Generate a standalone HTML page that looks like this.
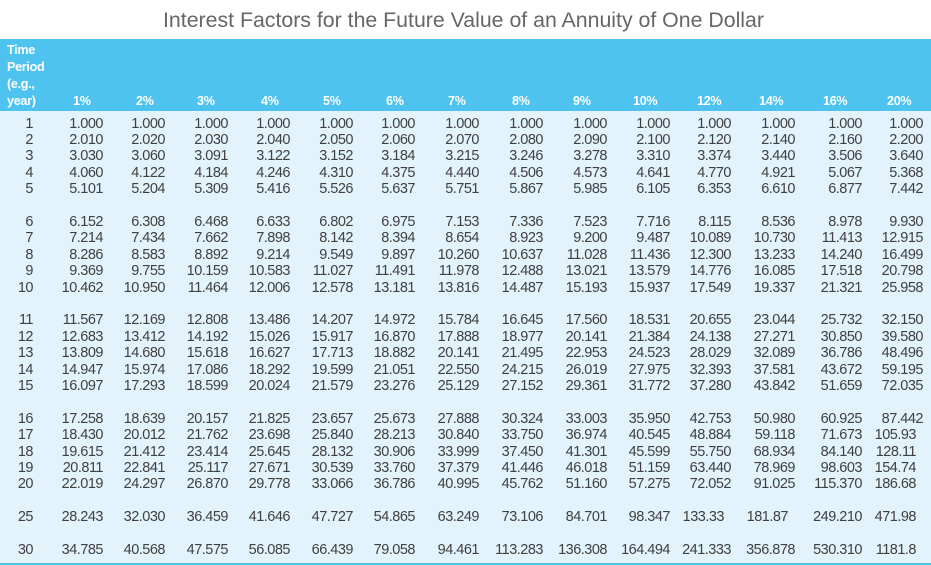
<!DOCTYPE html>
<html>
<head>
<meta charset="utf-8">
<style>
html,body{margin:0;padding:0;}
body{width:931px;height:565px;position:relative;overflow:hidden;background:#ffffff;font-family:"Liberation Sans",Arial,sans-serif;}
.title{position:absolute;left:-2px;top:8px;width:931px;text-align:center;font-size:21.3px;line-height:24px;color:#666666;}
.hdr{position:absolute;left:0;top:39px;width:931px;height:72px;background:#4fc3ef;}
.body{position:absolute;left:0;top:111px;width:931px;height:452px;background:#e2f3fc;}
.bot{position:absolute;left:0;top:563px;width:931px;height:2px;background:#4fc3ef;}
.tp{position:absolute;left:7px;top:42px;font-weight:bold;font-size:12.6px;letter-spacing:-0.3px;line-height:17px;color:#ffffff;}
.pc{position:absolute;top:93px;font-weight:bold;font-size:12.6px;letter-spacing:-0.3px;line-height:17px;color:#ffffff;}
.r{position:absolute;left:0;width:931px;height:16px;line-height:16px;font-size:14.5px;letter-spacing:-0.5px;color:#404040;}
.r span{position:absolute;top:0;width:60px;text-align:right;}
.r span:nth-child(1){left:-27px;}
.r span:nth-child(2){left:43px;}
.r span:nth-child(3){left:105px;}
.r span:nth-child(4){left:168px;}
.r span:nth-child(5){left:230px;}
.r span:nth-child(6){left:293px;}
.r span:nth-child(7){left:355px;}
.r span:nth-child(8){left:419px;}
.r span:nth-child(9){left:483px;}
.r span:nth-child(10){left:547px;}
.r span:nth-child(11){left:610px;}
.r span:nth-child(12){left:671px;}
.r span:nth-child(13){left:735px;}
.r span:nth-child(14){left:802px;}
.r span:nth-child(15){left:863px;}
.r span.d2{width:53px;padding-right:7px;}
</style>
</head>
<body>
<div class="title">Interest Factors for the Future Value of an Annuity of One Dollar</div>
<div class="hdr"></div>
<div class="body"></div>
<div class="bot"></div>
<div class="tp">Time<br>Period<br>(e.g.,<br>year)</div>
<div class="pc" style="left:73px">1%</div>
<div class="pc" style="left:136px">2%</div>
<div class="pc" style="left:197px">3%</div>
<div class="pc" style="left:261px">4%</div>
<div class="pc" style="left:323px">5%</div>
<div class="pc" style="left:386px">6%</div>
<div class="pc" style="left:448px">7%</div>
<div class="pc" style="left:512px">8%</div>
<div class="pc" style="left:573px">9%</div>
<div class="pc" style="left:633px">10%</div>
<div class="pc" style="left:697px">12%</div>
<div class="pc" style="left:759px">14%</div>
<div class="pc" style="left:823px">16%</div>
<div class="pc" style="left:887px">20%</div>

<div class="r" style="top:115.5px"><span>1</span><span>1.000</span><span>1.000</span><span>1.000</span><span>1.000</span><span>1.000</span><span>1.000</span><span>1.000</span><span>1.000</span><span>1.000</span><span>1.000</span><span>1.000</span><span>1.000</span><span>1.000</span><span>1.000</span></div>
<div class="r" style="top:131.9px"><span>2</span><span>2.010</span><span>2.020</span><span>2.030</span><span>2.040</span><span>2.050</span><span>2.060</span><span>2.070</span><span>2.080</span><span>2.090</span><span>2.100</span><span>2.120</span><span>2.140</span><span>2.160</span><span>2.200</span></div>
<div class="r" style="top:148.3px"><span>3</span><span>3.030</span><span>3.060</span><span>3.091</span><span>3.122</span><span>3.152</span><span>3.184</span><span>3.215</span><span>3.246</span><span>3.278</span><span>3.310</span><span>3.374</span><span>3.440</span><span>3.506</span><span>3.640</span></div>
<div class="r" style="top:164.7px"><span>4</span><span>4.060</span><span>4.122</span><span>4.184</span><span>4.246</span><span>4.310</span><span>4.375</span><span>4.440</span><span>4.506</span><span>4.573</span><span>4.641</span><span>4.770</span><span>4.921</span><span>5.067</span><span>5.368</span></div>
<div class="r" style="top:181.1px"><span>5</span><span>5.101</span><span>5.204</span><span>5.309</span><span>5.416</span><span>5.526</span><span>5.637</span><span>5.751</span><span>5.867</span><span>5.985</span><span>6.105</span><span>6.353</span><span>6.610</span><span>6.877</span><span>7.442</span></div>

<div class="r" style="top:213.9px"><span>6</span><span>6.152</span><span>6.308</span><span>6.468</span><span>6.633</span><span>6.802</span><span>6.975</span><span>7.153</span><span>7.336</span><span>7.523</span><span>7.716</span><span>8.115</span><span>8.536</span><span>8.978</span><span>9.930</span></div>
<div class="r" style="top:230.3px"><span>7</span><span>7.214</span><span>7.434</span><span>7.662</span><span>7.898</span><span>8.142</span><span>8.394</span><span>8.654</span><span>8.923</span><span>9.200</span><span>9.487</span><span>10.089</span><span>10.730</span><span>11.413</span><span>12.915</span></div>
<div class="r" style="top:246.7px"><span>8</span><span>8.286</span><span>8.583</span><span>8.892</span><span>9.214</span><span>9.549</span><span>9.897</span><span>10.260</span><span>10.637</span><span>11.028</span><span>11.436</span><span>12.300</span><span>13.233</span><span>14.240</span><span>16.499</span></div>
<div class="r" style="top:263.1px"><span>9</span><span>9.369</span><span>9.755</span><span>10.159</span><span>10.583</span><span>11.027</span><span>11.491</span><span>11.978</span><span>12.488</span><span>13.021</span><span>13.579</span><span>14.776</span><span>16.085</span><span>17.518</span><span>20.798</span></div>
<div class="r" style="top:279.5px"><span>10</span><span>10.462</span><span>10.950</span><span>11.464</span><span>12.006</span><span>12.578</span><span>13.181</span><span>13.816</span><span>14.487</span><span>15.193</span><span>15.937</span><span>17.549</span><span>19.337</span><span>21.321</span><span>25.958</span></div>

<div class="r" style="top:312.3px"><span>11</span><span>11.567</span><span>12.169</span><span>12.808</span><span>13.486</span><span>14.207</span><span>14.972</span><span>15.784</span><span>16.645</span><span>17.560</span><span>18.531</span><span>20.655</span><span>23.044</span><span>25.732</span><span>32.150</span></div>
<div class="r" style="top:328.7px"><span>12</span><span>12.683</span><span>13.412</span><span>14.192</span><span>15.026</span><span>15.917</span><span>16.870</span><span>17.888</span><span>18.977</span><span>20.141</span><span>21.384</span><span>24.138</span><span>27.271</span><span>30.850</span><span>39.580</span></div>
<div class="r" style="top:345.1px"><span>13</span><span>13.809</span><span>14.680</span><span>15.618</span><span>16.627</span><span>17.713</span><span>18.882</span><span>20.141</span><span>21.495</span><span>22.953</span><span>24.523</span><span>28.029</span><span>32.089</span><span>36.786</span><span>48.496</span></div>
<div class="r" style="top:361.5px"><span>14</span><span>14.947</span><span>15.974</span><span>17.086</span><span>18.292</span><span>19.599</span><span>21.051</span><span>22.550</span><span>24.215</span><span>26.019</span><span>27.975</span><span>32.393</span><span>37.581</span><span>43.672</span><span>59.195</span></div>
<div class="r" style="top:377.9px"><span>15</span><span>16.097</span><span>17.293</span><span>18.599</span><span>20.024</span><span>21.579</span><span>23.276</span><span>25.129</span><span>27.152</span><span>29.361</span><span>31.772</span><span>37.280</span><span>43.842</span><span>51.659</span><span>72.035</span></div>

<div class="r" style="top:410.7px"><span>16</span><span>17.258</span><span>18.639</span><span>20.157</span><span>21.825</span><span>23.657</span><span>25.673</span><span>27.888</span><span>30.324</span><span>33.003</span><span>35.950</span><span>42.753</span><span>50.980</span><span>60.925</span><span>87.442</span></div>
<div class="r" style="top:427.1px"><span>17</span><span>18.430</span><span>20.012</span><span>21.762</span><span>23.698</span><span>25.840</span><span>28.213</span><span>30.840</span><span>33.750</span><span>36.974</span><span>40.545</span><span>48.884</span><span>59.118</span><span>71.673</span><span class="d2">105.93</span></div>
<div class="r" style="top:443.5px"><span>18</span><span>19.615</span><span>21.412</span><span>23.414</span><span>25.645</span><span>28.132</span><span>30.906</span><span>33.999</span><span>37.450</span><span>41.301</span><span>45.599</span><span>55.750</span><span>68.934</span><span>84.140</span><span class="d2">128.11</span></div>
<div class="r" style="top:459.9px"><span>19</span><span>20.811</span><span>22.841</span><span>25.117</span><span>27.671</span><span>30.539</span><span>33.760</span><span>37.379</span><span>41.446</span><span>46.018</span><span>51.159</span><span>63.440</span><span>78.969</span><span>98.603</span><span class="d2">154.74</span></div>
<div class="r" style="top:476.3px"><span>20</span><span>22.019</span><span>24.297</span><span>26.870</span><span>29.778</span><span>33.066</span><span>36.786</span><span>40.995</span><span>45.762</span><span>51.160</span><span>57.275</span><span>72.052</span><span>91.025</span><span>115.370</span><span class="d2">186.68</span></div>

<div class="r" style="top:509.1px"><span>25</span><span>28.243</span><span>32.030</span><span>36.459</span><span>41.646</span><span>47.727</span><span>54.865</span><span>63.249</span><span>73.106</span><span>84.701</span><span>98.347</span><span class="d2">133.33</span><span class="d2">181.87</span><span>249.210</span><span class="d2">471.98</span></div>

<div class="r" style="top:541.9px"><span>30</span><span>34.785</span><span>40.568</span><span>47.575</span><span>56.085</span><span>66.439</span><span>79.058</span><span>94.461</span><span>113.283</span><span>136.308</span><span>164.494</span><span>241.333</span><span>356.878</span><span>530.310</span><span class="d2">1181.8</span></div>
</body>
</html>
